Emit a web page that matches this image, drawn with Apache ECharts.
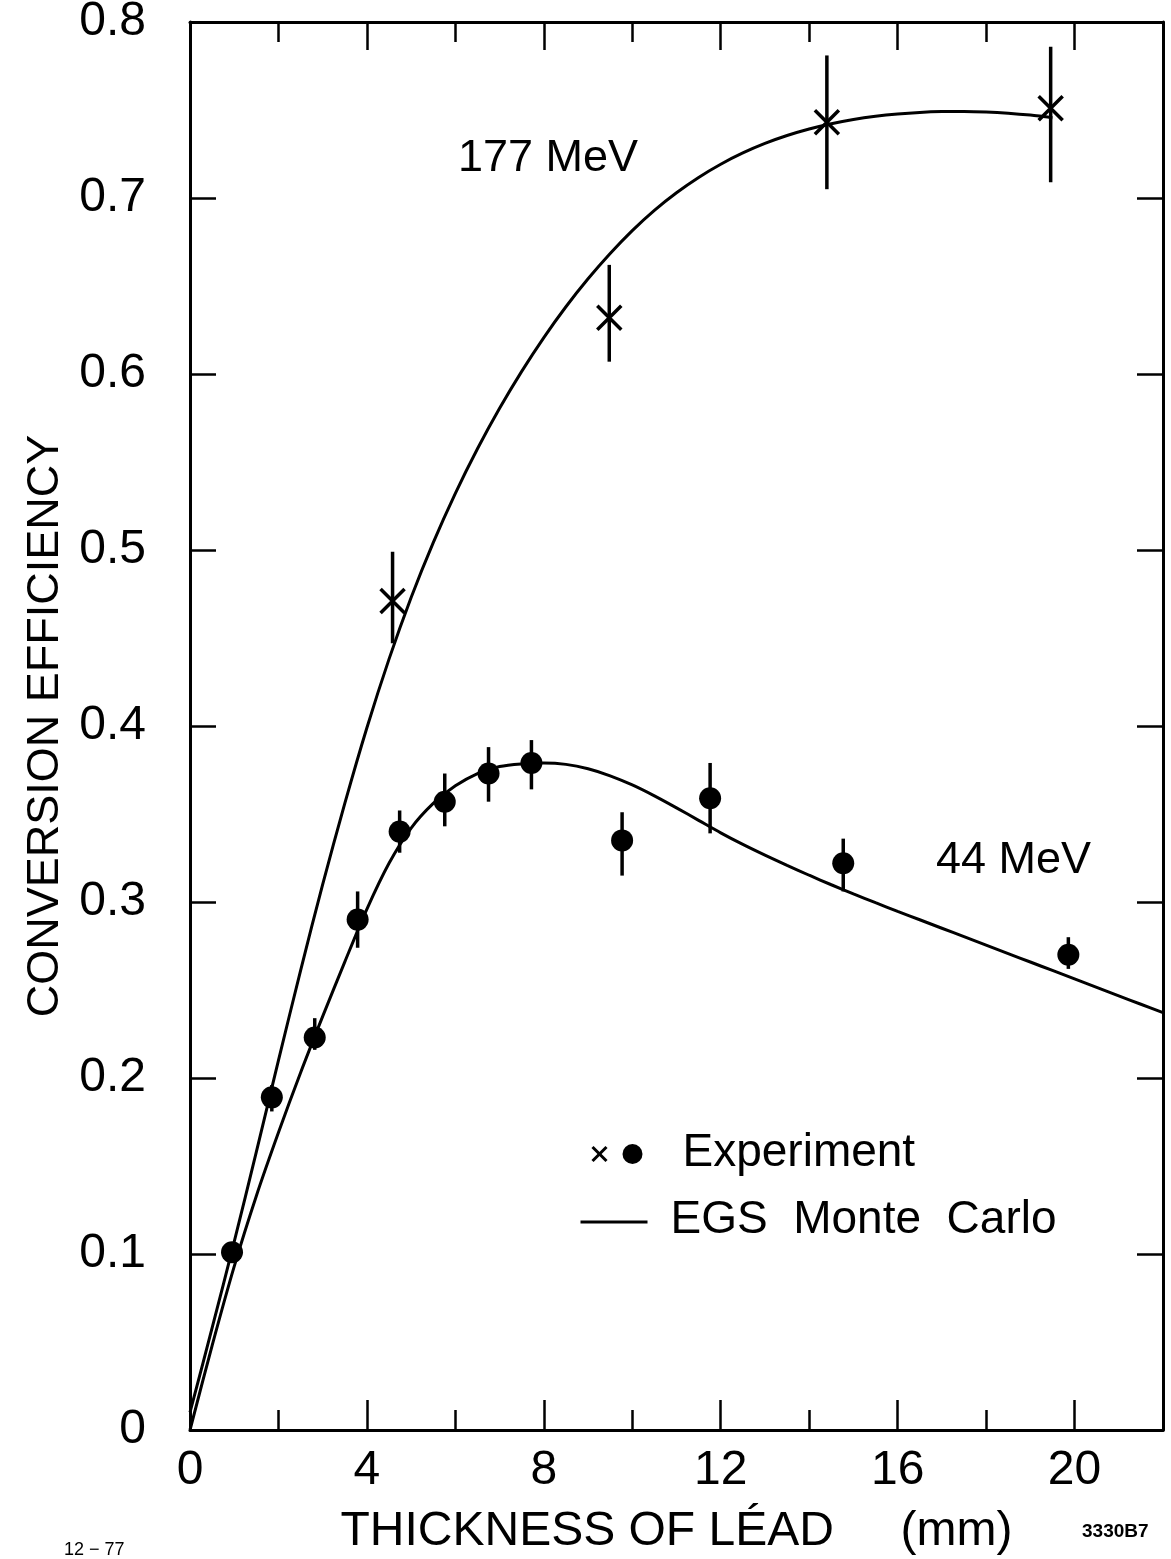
<!DOCTYPE html>
<html>
<head>
<meta charset="utf-8">
<script src="https://cdn.jsdelivr.net/npm/echarts@6/dist/echarts.min.js"></script>
<style>
html,body{margin:0;padding:0;background:#fff;}
#c{width:1171px;height:1559px;}
</style>
</head>
<body>
<div id="c"></div>
<script>
// ---- data (thickness of lead in mm, conversion efficiency) ----
const xTicksMajor = [0, 4, 8, 12, 16, 20];
const yTicks = [0, 0.1, 0.2, 0.3, 0.4, 0.5, 0.6, 0.7, 0.8];

// EGS Monte Carlo curve, 177 MeV
const mc177 = [[0,0.010],[0.5,0.058],[1,0.107],[1.5,0.158],[2,0.210],[2.5,0.261],[3,0.310],[3.5,0.356],
  [4,0.399],[4.5,0.438],[5,0.473],[5.5,0.5042],[6,0.5322],[6.5,0.5575],[7,0.5805],[7.5,0.6015],
  [8,0.6207],[8.5,0.6382],[9,0.6541],[9.5,0.6685],[10,0.6815],[10.5,0.693],[11,0.703],[11.5,0.7117],
  [12,0.7192],[12.5,0.7256],[13,0.731],[13.5,0.7355],[14,0.7392],[14.5,0.7422],[15,0.7446],
  [15.5,0.7464],[16,0.7477],[16.5,0.7486],[17,0.7491],[17.5,0.7492],[18,0.7489],[18.5,0.7482],
  [19,0.7471],[19.5,0.7456]];

// EGS Monte Carlo curve, 44 MeV
const mc44 = [[0,0],[0.5,0.048],[1,0.093],[1.5,0.133],[2,0.169],[2.5,0.203],[3,0.235],[3.5,0.266],
  [4,0.296],[4.5,0.322],[5,0.342],[5.5,0.356],[6,0.366],[6.5,0.373],[7,0.377],[7.5,0.3785],[8,0.379],
  [8.5,0.3782],[9,0.3757],[9.5,0.3717],[10,0.3665],[10.5,0.3603],[11,0.3535],[11.5,0.3464],
  [12,0.3393],[12.5,0.3327],[13,0.3266],[13.5,0.3208],[14,0.3152],[14.5,0.3098],[15,0.3046],
  [15.5,0.2996],[16,0.2947],[16.5,0.2899],[17,0.2851],[17.5,0.2803],[18,0.2755],[18.5,0.2707],
  [19,0.2659],[19.5,0.2611],[20,0.2563],[20.5,0.2515],[21,0.2467],[21.5,0.2419],[22,0.2371]];

// Experiment, 177 MeV: x, value, low, high
const exp177X = [4.58, 9.48, 14.4, 19.46];
const exp177Y = [0.471, 0.632, 0.743, 0.751];
const exp177Lo = [0.447, 0.607, 0.705, 0.709];
const exp177Hi = [0.499, 0.662, 0.781, 0.786];

// Experiment, 44 MeV: x, value, low, high
const exp44X = [0.95, 1.85, 2.82, 3.79, 4.74, 5.76, 6.75, 7.72, 9.77, 11.76, 14.77, 19.86];
const exp44Y = [0.101, 0.189, 0.223, 0.290, 0.340, 0.357, 0.373, 0.379, 0.335, 0.359, 0.322, 0.270];
const exp44Lo = [0.101, 0.181, 0.216, 0.274, 0.328, 0.343, 0.357, 0.364, 0.315, 0.339, 0.306, 0.262];
const exp44Hi = [0.101, 0.196, 0.234, 0.306, 0.352, 0.373, 0.388, 0.392, 0.351, 0.379, 0.336, 0.280];

const FONT = 'Liberation Sans';
const BLACK = '#000';

const zip = (xs, ys) => xs.map((x, i) => [x, ys[i]]);
const errData = (xs, lo, hi) => xs.map((x, i) => [x, lo[i], hi[i]]);

function errRender(params, api) {
  const x = api.value(0);
  const p1 = api.coord([x, api.value(1)]);
  const p2 = api.coord([x, api.value(2)]);
  return {
    type: 'line',
    shape: { x1: p1[0], y1: p1[1], x2: p2[0], y2: p2[1] },
    style: { stroke: BLACK, lineWidth: 3.5 }
  };
}

const gridPos = { left: 190, right: 8, top: 22, bottom: 129, containLabel: false, outerBoundsMode: 'none' };
const boxLine = { show: true, onZero: false, lineStyle: { color: BLACK, width: 3 } };
const noLine = { show: false, onZero: false };

const chart = echarts.init(document.getElementById('c'), null, { renderer: 'canvas' });
chart.setOption({
  backgroundColor: '#fff',
  animation: false,
  grid: [Object.assign({}, gridPos), Object.assign({}, gridPos)],
  xAxis: [
    { type: 'value', gridIndex: 0, position: 'bottom', min: 0, max: 22, interval: 4,
      axisLine: boxLine,
      axisTick: { show: true, inside: true, length: 30, lineStyle: { color: BLACK, width: 2.5 } },
      splitLine: { show: false },
      axisLabel: { show: true, margin: 17, color: BLACK, fontFamily: FONT, fontSize: 48,
        formatter: v => (xTicksMajor.indexOf(v) >= 0 ? String(v) : '') },
      name: 'THICKNESS OF LÉAD     (mm)', nameLocation: 'middle', nameGap: 78,
      nameTextStyle: { color: BLACK, fontFamily: FONT, fontSize: 48 } },
    { type: 'value', gridIndex: 0, position: 'top', min: 0, max: 22, interval: 4,
      axisLine: boxLine,
      axisTick: { show: true, inside: true, length: 28, lineStyle: { color: BLACK, width: 2.5 } },
      splitLine: { show: false }, axisLabel: { show: false } },
    { type: 'value', gridIndex: 1, position: 'bottom', min: 0, max: 22, interval: 2,
      axisLine: noLine,
      axisTick: { show: true, inside: true, length: 20, lineStyle: { color: BLACK, width: 2.5 } },
      splitLine: { show: false }, axisLabel: { show: false } },
    { type: 'value', gridIndex: 1, position: 'top', min: 0, max: 22, interval: 2,
      axisLine: noLine,
      axisTick: { show: true, inside: true, length: 20, lineStyle: { color: BLACK, width: 2.5 } },
      splitLine: { show: false }, axisLabel: { show: false } }
  ],
  yAxis: [
    { type: 'value', gridIndex: 0, position: 'left', min: 0, max: 0.8, interval: 0.1,
      axisLine: boxLine,
      axisTick: { show: true, inside: true, length: 26, lineStyle: { color: BLACK, width: 2.5 } },
      splitLine: { show: false },
      axisLabel: { show: true, margin: 44, color: BLACK, fontFamily: FONT, fontSize: 48,
        formatter: v => { const t = yTicks.find(k => Math.abs(k - v) < 1e-9); return t === undefined ? '' : (t === 0 ? '0' : t.toFixed(1)); } },
      name: 'CONVERSION EFFICIENCY', nameLocation: 'middle', nameGap: 120, nameRotate: 90,
      nameTextStyle: { color: BLACK, fontFamily: FONT, fontSize: 45 } },
    { type: 'value', gridIndex: 0, position: 'right', min: 0, max: 0.8, interval: 0.1,
      axisLine: boxLine,
      axisTick: { show: true, inside: true, length: 26, lineStyle: { color: BLACK, width: 2.5 } },
      splitLine: { show: false }, axisLabel: { show: false } },
    { type: 'value', gridIndex: 1, min: 0, max: 0.8, show: false }
  ],
  series: [
    { type: 'line', name: 'EGS 177', xAxisIndex: 0, yAxisIndex: 0, data: mc177,
      smooth: 0.3, showSymbol: false, lineStyle: { color: BLACK, width: 3 } },
    { type: 'line', name: 'EGS 44', xAxisIndex: 0, yAxisIndex: 0, data: mc44,
      smooth: 0.3, showSymbol: false, lineStyle: { color: BLACK, width: 3 } },
    { type: 'custom', name: 'err177', xAxisIndex: 0, yAxisIndex: 0,
      data: errData(exp177X, exp177Lo, exp177Hi), renderItem: errRender, z: 3 },
    { type: 'custom', name: 'err44', xAxisIndex: 0, yAxisIndex: 0,
      data: errData(exp44X, exp44Lo, exp44Hi), renderItem: errRender, z: 3 },
    { type: 'scatter', name: 'exp177', xAxisIndex: 0, yAxisIndex: 0, data: zip(exp177X, exp177Y),
      symbol: 'path://M0,0L10,10M10,0L0,10', symbolSize: 24,
      itemStyle: { color: 'none', borderColor: BLACK, borderWidth: 3.5, opacity: 1 }, z: 4 },
    { type: 'scatter', name: 'exp44', xAxisIndex: 0, yAxisIndex: 0, data: zip(exp44X, exp44Y),
      symbol: 'circle', symbolSize: 22, itemStyle: { color: BLACK, opacity: 1 }, z: 4 }
  ],
  graphic: [
    { type: 'text', left: 458, top: 136, style: { text: '177 MeV', font: '45px "Liberation Sans"', fill: BLACK } },
    { type: 'text', left: 936, top: 838, style: { text: '44 MeV', font: '45px "Liberation Sans"', fill: BLACK } },
    // legend
    { type: 'group', left: 578, top: 1130, children: [
      { type: 'line', shape: { x1: 12, y1: 17, x2: 26, y2: 31 }, style: { stroke: BLACK, lineWidth: 3 } },
      { type: 'line', shape: { x1: 26, y1: 17, x2: 12, y2: 31 }, style: { stroke: BLACK, lineWidth: 3 } },
      { type: 'circle', shape: { cx: 52, cy: 24, r: 10 }, style: { fill: BLACK } },
      { type: 'text', x: 102, y: 0, style: { text: 'Experiment', font: '46px "Liberation Sans"', fill: BLACK } },
      { type: 'line', shape: { x1: 0, y1: 92, x2: 67, y2: 92 }, style: { stroke: BLACK, lineWidth: 3 } },
      { type: 'text', x: 90, y: 67, style: { text: 'EGS  Monte  Carlo', font: '46px "Liberation Sans"', fill: BLACK } }
    ] },
    { type: 'text', left: 64, top: 1541, style: { text: '12 − 77', font: '18px "Liberation Sans"', fill: BLACK } },
    { type: 'text', left: 1082, top: 1522, style: { text: '3330B7', font: 'bold 19px "Liberation Sans"', fill: BLACK } }
  ]
});
</script>
</body>
</html>
